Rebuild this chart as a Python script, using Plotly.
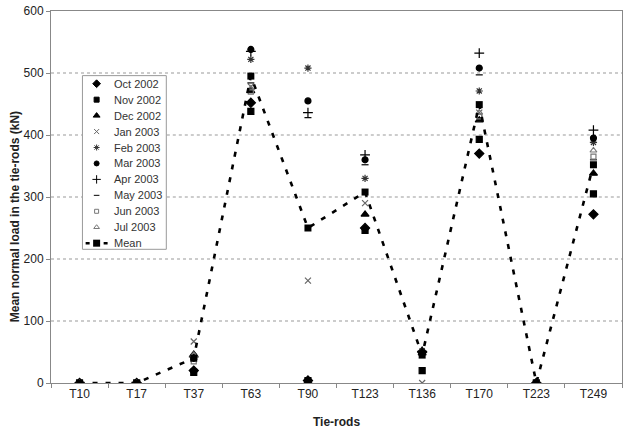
import plotly.graph_objects as go

categories = ["T10", "T17", "T37", "T63", "T90", "T123", "T136", "T170", "T223", "T249"]
y_ticks = [0, 100, 200, 300, 400, 500, 600]

oct_2002 = [0, 0, 20, 452, 4, 250, 50, 370, 0, 272]
nov_2002 = [0, 0, 17, 438, 4, 246, 20, 393, 0, 305]
dec_2002 = [0, 0, 46, 471, 4, 272, 48, 424, 0, 338]
jan_2003 = [0, 0, 67, 478, 165, 290, 0, 436, 0, 392]
feb_2003 = [0, 0, 44, 522, 508, 330, 52, 471, 0, 388]
mar_2003 = [0, 0, 40, 538, 455, 360, 49, 508, 0, 395]
apr_2003 = [0, 0, 42, 535, 436, 368, 51, 532, 0, 408]
may_2003 = [0, 0, 38, 484, 428, 352, 47, 497, 0, 360]
jun_2003 = [0, 0, 35, 470, None, None, None, 430, 0, 365]
jul_2003 = [0, 0, 45, 475, None, None, None, 436, 0, 375]
mean_load = [0, 0, 40, 495, 250, 308, 45, 449, 0, 352]

series = [
    ("Oct 2002", oct_2002, "diamond", 7, "#000000"),
    ("Nov 2002", nov_2002, "square", 6, "#000000"),
    ("Dec 2002", dec_2002, "triangle-up", 7, "#000000"),
    ("Jan 2003", jan_2003, "x-thin-open", 6, "#666666"),
    ("Feb 2003", feb_2003, "asterisk-open", 6, "#333333"),
    ("Mar 2003", mar_2003, "circle", 6, "#000000"),
    ("Apr 2003", apr_2003, "cross-thin-open", 7, "#000000"),
    ("May 2003", may_2003, "line-ew-open", 5, "#000000"),
    ("Jun 2003", jun_2003, "square-open", 5, "#777777"),
    ("Jul 2003", jul_2003, "triangle-up-open", 6, "#777777"),
]
mean_name = "Mean"

FONT = "Liberation Sans, Arial, sans-serif"
MEAN_LINE = dict(color="#000000", width=2.6, dash="5px,8px")
Y_MAX = 600

fig = go.Figure()
for name, vals, sym, size, col in series:
    fig.add_trace(go.Scatter(
        x=categories, y=vals, mode="markers", name=name, showlegend=False,
        marker=dict(symbol=sym, size=size, color=col,
                    line=dict(width=1.2, color=col)),
    ))

fig.add_trace(go.Scatter(
    x=categories, y=mean_load, mode="lines+markers", name=mean_name,
    showlegend=False, line=MEAN_LINE,
    marker=dict(symbol="square", size=7, color="#000000"),
))

# ---- geometry (pixels) ----
PLOT_L, PLOT_R, PLOT_T, PLOT_B = 51, 623, 7, 384
PW, PH = PLOT_R - PLOT_L, PLOT_B - PLOT_T
LEG_L, LEG_T = 82, 72
BOX_W, BOX_H = 85, 177

# ---- dotted gridlines, interrupted where the legend box sits ----
leg_x0 = (LEG_L - PLOT_L) / PW
leg_x1 = (LEG_L + BOX_W - PLOT_L) / PW
for v in y_ticks[1:-1]:
    py = PLOT_B - v / Y_MAX * PH
    if LEG_T <= py <= LEG_T + BOX_H:
        spans = [(0, leg_x0), (leg_x1, 1)]
    else:
        spans = [(0, 1)]
    for a, b in spans:
        fig.add_shape(type="line", xref="x domain", yref="y", x0=a, x1=b,
                      y0=v, y1=v, layer="below",
                      line=dict(color="#999999", width=1, dash="dot"))

# ---- custom legend on an overlaid, hidden pixel-unit axis pair ----
ROW_H = 16.16      # row pitch inside the legend box
ROW0 = 8.7         # first row centre from the box top
SYM_X = 14.7       # symbol centre from box left
TXT_X = 30.0       # text start from box left

fig.add_trace(go.Scatter(
    x=[0.5, BOX_W - 0.5, BOX_W - 0.5, 0.5, 0.5],
    y=[0.5, 0.5, BOX_H - 0.5, BOX_H - 0.5, 0.5],
    xaxis="x2", yaxis="y2", mode="lines", fill="toself",
    fillcolor="white", line=dict(color="#999999", width=1),
    showlegend=False, hoverinfo="skip",
))

for i, (name, vals, sym, size, col) in enumerate(series):
    ry = ROW0 + ROW_H * i
    fig.add_trace(go.Scatter(
        x=[SYM_X], y=[ry], xaxis="x2", yaxis="y2", mode="markers",
        showlegend=False, hoverinfo="skip",
        marker=dict(symbol=sym, size=max(size - 1, 4), color=col,
                    line=dict(width=1, color=col)),
    ))
    fig.add_annotation(x=TXT_X, y=ry, xref="x2", yref="y2", text=name,
                       showarrow=False, xanchor="left", yanchor="middle",
                       font=dict(family=FONT, size=11, color="#333333"))

ry_mean = ROW0 + ROW_H * len(series)
fig.add_trace(go.Scatter(
    x=[SYM_X - 11, SYM_X + 11], y=[ry_mean, ry_mean], xaxis="x2", yaxis="y2",
    mode="lines", showlegend=False, hoverinfo="skip",
    line=dict(color="#000000", width=2.5, dash="4px,5px"),
))
fig.add_trace(go.Scatter(
    x=[SYM_X], y=[ry_mean], xaxis="x2", yaxis="y2", mode="markers",
    showlegend=False, hoverinfo="skip",
    marker=dict(symbol="square", size=7, color="#000000"),
))
fig.add_annotation(x=TXT_X, y=ry_mean, xref="x2", yref="y2", text=mean_name,
                   showarrow=False, xanchor="left", yanchor="middle",
                   font=dict(family=FONT, size=11, color="#333333"))

fig.update_layout(
    width=627, height=431,
    margin=dict(l=PLOT_L, r=627 - PLOT_R, t=PLOT_T, b=431 - PLOT_B),
    paper_bgcolor="white", plot_bgcolor="white",
    font=dict(family=FONT, size=12, color="#222222"),
    showlegend=False,
    xaxis2=dict(overlaying="x", range=[PLOT_L - LEG_L, PLOT_R - LEG_L],
                visible=False, fixedrange=True),
    yaxis2=dict(overlaying="y", range=[PLOT_B - LEG_T, PLOT_T - LEG_T],
                visible=False, fixedrange=True),
)

fig.update_layout(xaxis=dict(
    type="category", range=[-0.5, 9.5],
    tickson="boundaries", ticks="outside", ticklen=4, tickcolor="#888888",
    showline=True, linecolor="#888888", linewidth=1, mirror=True,
    showgrid=False, zeroline=False,
    tickfont=dict(family=FONT, size=12, color="#222222"),
    title=dict(text="<b>Tie-rods</b>", font=dict(family=FONT, size=12, color="#222222"), standoff=17),
))

fig.update_layout(yaxis=dict(
    range=[0, Y_MAX], tickvals=y_ticks,
    ticks="outside", ticklen=4, tickcolor="#888888",
    showline=True, linecolor="#888888", linewidth=1, mirror=True,
    showgrid=False, zeroline=False,
    tickfont=dict(family=FONT, size=12, color="#222222"),
))

fig.add_annotation(
    text="<b>Mean normal load in the tie-rods (kN)</b>", textangle=-90,
    xref="paper", yref="paper", x=-(PLOT_L - 15) / PW, y=(PLOT_B - 216) / PH,
    xanchor="center", yanchor="middle", showarrow=False,
    font=dict(family=FONT, size=12, color="#222222"),
)

fig.write_html("out.html")
